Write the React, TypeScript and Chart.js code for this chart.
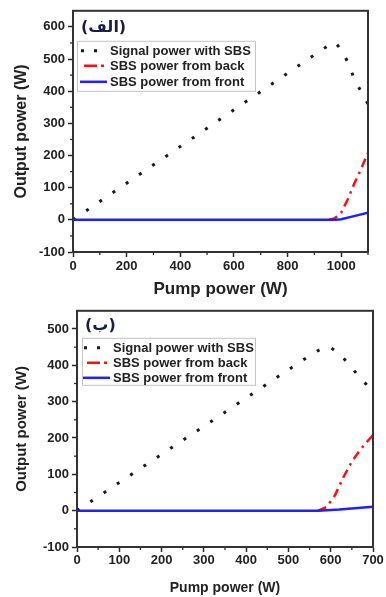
import React, { useEffect, useRef } from 'react';
import { Chart, registerables } from 'chart.js';

Chart.register(...registerables);

// ---------- Data: panel (الف) ----------
const aSignalX = [0, 100, 200, 300, 400, 500, 600, 700, 800, 900, 950, 975, 1000, 1025, 1050, 1075, 1100];
const aSignalY = [0, 57, 114, 171, 228, 285, 342, 399, 456, 513, 541, 553, 530, 490, 435, 398, 360];
const aBackX = [955, 975, 1000, 1025, 1050, 1075, 1100];
const aBackY = [0, 4, 22, 65, 115, 160, 208];
const aFrontX = [0, 980, 1000, 1040, 1100];
const aFrontY = [0, 0, 2, 10, 22];

// ---------- Data: panel (ب) ----------
const bSignalX = [0, 100, 200, 300, 400, 500, 560, 585, 600, 625, 650, 675, 700];
const bSignalY = [0, 77.5, 155, 232, 310, 388, 434, 450, 449, 427, 393, 358, 330];
const bBackX = [570, 590, 610, 630, 650, 670, 690, 700];
const bBackY = [0, 10, 42, 92, 135, 168, 195, 208];
const bFrontX = [0, 570, 620, 700];
const bFrontY = [0, 0, 3, 11];

// ---------- Labels ----------
const legendLabels = ['Signal power with SBS', 'SBS power from back', 'SBS power from front'];
const xTitle = 'Pump power (W)';
const yTitle = 'Output power (W)';
const panelA = '(الف)';
const panelB = '(ب)';

const FONT = "'Liberation Sans', Arial, sans-serif";
const AXIS = '#2a2a2a';

const pts = (xs: number[], ys: number[]) => xs.map((x, i) => ({ x, y: ys[i] }));

type Spec = {
  height: number;
  padTop: number;
  padRight: number;
  xMax: number;
  yMin: number;
  yMax: number;
  yAxisW: number;
  xAxisH: number;
  xLabelStep: number;
  xMinor: number[];
  yMinor: number[];
  xTickPad: number;
  xTitleSize: number;
  yTitleSize: number;
  yTitlePad: number;
  label: string;
  series: { sx: number[]; sy: number[]; bx: number[]; by: number[]; fx: number[]; fy: number[] };
  lg: {
    labelDx: number; labelDy: number;
    boxX: number; boxY: number; boxW: number; boxH: number;
    rows: number[]; s1: number; s2: number; tx: number;
  };
};

const range = (a: number, b: number, s: number) => {
  const out: number[] = [];
  for (let v = a; v <= b + 1e-9; v += s) out.push(v);
  return out;
};

function build(canvas: HTMLCanvasElement, spec: Spec) {
  const decor = {
    id: 'decor',
    afterDraw(chart: any) {
      const ctx = chart.ctx as CanvasRenderingContext2D;
      const a = chart.chartArea;
      const xs = chart.scales.x;
      const ys = chart.scales.y;
      ctx.save();
      // minor ticks
      ctx.strokeStyle = AXIS;
      ctx.lineWidth = 1.3;
      ctx.setLineDash([]);
      spec.xMinor.forEach((v) => {
        const px = xs.getPixelForValue(v);
        ctx.beginPath();
        ctx.moveTo(px, a.bottom);
        ctx.lineTo(px, a.bottom + 3);
        ctx.stroke();
      });
      spec.yMinor.forEach((v) => {
        const py = ys.getPixelForValue(v);
        ctx.beginPath();
        ctx.moveTo(a.left, py);
        ctx.lineTo(a.left - 3, py);
        ctx.stroke();
      });
      // frame
      ctx.strokeStyle = '#333';
      ctx.lineWidth = 2;
      ctx.strokeRect(a.left, a.top, a.right - a.left, a.bottom - a.top);

      const L = spec.lg;
      // panel label
      ctx.font = "bold 16px 'DejaVu Sans'";
      ctx.fillStyle = '#1d1d4d';
      ctx.textAlign = 'left';
      ctx.textBaseline = 'middle';
      ctx.fillText(spec.label, a.left + L.labelDx, a.top + L.labelDy);

      // legend box
      ctx.fillStyle = '#ffffff';
      ctx.strokeStyle = '#c4c4c4';
      ctx.lineWidth = 1;
      ctx.fillRect(a.left + L.boxX, a.top + L.boxY, L.boxW, L.boxH);
      ctx.strokeRect(a.left + L.boxX + 0.5, a.top + L.boxY + 0.5, L.boxW, L.boxH);

      const ds = chart.data.datasets;
      const order = [2, 1, 0];
      order.forEach((di, r) => {
        const d = ds[di];
        const y = a.top + L.rows[r];
        ctx.save();
        ctx.strokeStyle = d.borderColor;
        ctx.lineWidth = d.borderWidth;
        ctx.lineCap = 'butt';
        ctx.setLineDash(d.legendDash);
        ctx.beginPath();
        ctx.moveTo(a.left + L.s1 + d.legendFrom, y);
        ctx.lineTo(a.left + L.s1 + d.legendTo, y);
        ctx.stroke();
        ctx.restore();
        ctx.font = `bold 13px ${FONT}`;
        ctx.fillStyle = '#222';
        ctx.textAlign = 'left';
        ctx.textBaseline = 'middle';
        ctx.fillText(d.label, a.left + L.tx, y + 0.5);
      });
      ctx.restore();
    },
  };

  const s = spec.series;
  return new Chart(canvas, {
    type: 'line',
    data: {
      datasets: [
        {
          label: legendLabels[2],
          data: pts(s.fx, s.fy),
          borderColor: '#1f1fff',
          borderWidth: 2.5,
          legendDash: [],
          legendFrom: 0,
          legendTo: 27,
        } as any,
        {
          label: legendLabels[1],
          data: pts(s.bx, s.by),
          borderColor: '#ff1010',
          borderWidth: 2.5,
          borderDash: [9, 5, 2.5, 5],
          legendDash: [13, 4, 3, 20],
          legendFrom: 4,
          legendTo: 24,
        } as any,
        {
          label: legendLabels[0],
          data: pts(s.sx, s.sy),
          borderColor: '#1a1a1a',
          borderWidth: 3,
          borderDash: [3, 13],
          legendDash: [3, 10],
          legendFrom: 1,
          legendTo: 17,
        } as any,
      ],
    },
    options: {
      animation: false,
      responsive: false,
      maintainAspectRatio: false,
      layout: { padding: { top: spec.padTop, right: spec.padRight, left: 0, bottom: 0 } },
      elements: { point: { radius: 0 }, line: { tension: 0 } },
      plugins: { legend: { display: false }, tooltip: { enabled: false } },
      scales: {
        x: {
          type: 'linear',
          min: 0,
          max: spec.xMax,
          border: { display: true, color: '#333', width: 2 },
          grid: {
            drawOnChartArea: false,
            tickLength: 5,
            tickWidth: 1.5,
            tickColor: (c: any) =>
              c.tick && c.tick.value % spec.xLabelStep === 0 ? AXIS : 'rgba(0,0,0,0)',
          },
          ticks: {
            stepSize: 100,
            autoSkip: false,
            maxRotation: 0,
            padding: spec.xTickPad,
            color: '#222',
            font: { family: FONT, size: 13, weight: 'bold' },
            callback: (v: any) =>
              Number(v) % spec.xLabelStep === 0 && Number(v) <= spec.xMax - (spec.xLabelStep === 200 ? 100 : 0)
                ? String(v)
                : '',
          },
          title: {
            display: true,
            text: xTitle,
            color: '#222',
            font: { family: FONT, size: spec.xTitleSize, weight: 'bold' },
            padding: { top: 0, bottom: 0 },
          },
          afterFit: (sc: any) => {
            sc.height = spec.xAxisH;
          },
        },
        y: {
          type: 'linear',
          min: spec.yMin,
          max: spec.yMax,
          border: { display: true, color: '#333', width: 2 },
          grid: { drawOnChartArea: false, tickLength: 5, tickWidth: 1.5, tickColor: AXIS },
          ticks: {
            stepSize: 100,
            includeBounds: false,
            autoSkip: false,
            padding: 3,
            color: '#222',
            font: { family: FONT, size: 13, weight: 'bold' },
          },
          title: {
            display: true,
            text: yTitle,
            color: '#222',
            font: { family: FONT, size: spec.yTitleSize, weight: 'bold' },
            padding: { top: spec.yTitlePad, bottom: 0 },
          },
          afterFit: (sc: any) => {
            sc.width = spec.yAxisW;
          },
        },
      },
    } as any,
    plugins: [decor],
  });
}

const specA: Spec = {
  height: 300,
  padTop: 8,
  padRight: 18,
  xMax: 1100,
  yMin: -100,
  yMax: 650,
  yAxisW: 73,
  xAxisH: 48,
  xLabelStep: 200,
  xMinor: range(100, 1100, 200),
  yMinor: range(-50, 600, 100),
  xTickPad: 2,
  xTitleSize: 17,
  yTitleSize: 16,
  yTitlePad: 12,
  label: panelA,
  series: { sx: aSignalX, sy: aSignalY, bx: aBackX, by: aBackY, fx: aFrontX, fy: aFrontY },
  lg: { labelDx: 8, labelDy: 17, boxX: 4, boxY: 30, boxW: 178, boxH: 50, rows: [40, 55, 71], s1: 7, s2: 34, tx: 37 },
};

const specB: Spec = {
  height: 297,
  padTop: 5,
  padRight: 13,
  xMax: 700,
  yMin: -100,
  yMax: 550,
  yAxisW: 77,
  xAxisH: 50,
  xLabelStep: 100,
  xMinor: range(50, 650, 100),
  yMinor: range(-50, 500, 100),
  xTickPad: 1,
  xTitleSize: 14,
  yTitleSize: 15,
  yTitlePad: 13,
  label: panelB,
  series: { sx: bSignalX, sy: bSignalY, bx: bBackX, by: bBackY, fx: bFrontX, fy: bFrontY },
  lg: { labelDx: 8, labelDy: 15, boxX: 5, boxY: 27, boxW: 173, boxH: 47, rows: [37, 52, 67], s1: 6, s2: 33, tx: 36 },
};

function Panel({ spec }: { spec: Spec }) {
  const ref = useRef<HTMLCanvasElement>(null);
  useEffect(() => {
    if (!ref.current) return;
    const c = build(ref.current, spec);
    return () => c.destroy();
  }, [spec]);
  return <canvas ref={ref} width={386} height={spec.height} style={{ display: 'block', width: 386, height: spec.height }} />;
}

export default function App() {
  return (
    <div style={{ position: 'absolute', left: 0, top: 0, width: 386, height: 597, background: '#fff' }}>
      <Panel spec={specA} />
      <Panel spec={specB} />
    </div>
  );
}
